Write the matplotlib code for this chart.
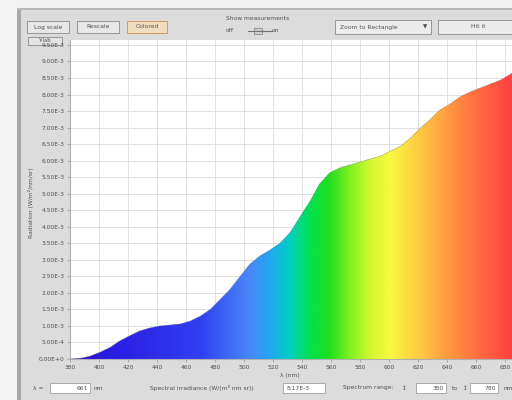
import numpy as np
import matplotlib.pyplot as plt
from matplotlib.colors import LinearSegmentedColormap
from matplotlib.patches import Rectangle

# Spektrum (Wellenlaenge in nm, Bestrahlungsstaerke)
wellenlaenge = [380, 388, 394, 401, 408, 414, 421, 428, 435, 442, 449, 456, 463,
                470, 477, 483, 490, 497, 504, 511, 518, 525, 532, 539, 546, 552,
                559, 566, 573, 580, 587, 594, 601, 608, 615, 621, 628, 635, 642,
                649, 656, 663, 670, 677, 685]
strahlung = [0.0, 0.00003, 0.00009, 0.00021, 0.00036, 0.00054, 0.0007, 0.00085,
             0.00094, 0.001, 0.00103, 0.00106, 0.00115, 0.0013, 0.00151, 0.00178,
             0.00209, 0.00248, 0.00287, 0.00312, 0.0033, 0.00351, 0.00384,
             0.00433, 0.00481, 0.00529, 0.00563, 0.00578, 0.00587, 0.00596,
             0.00605, 0.00614, 0.00629, 0.00644, 0.00669, 0.00696, 0.00723,
             0.00753, 0.00771, 0.00793, 0.00808, 0.0082, 0.00832, 0.00844, 0.00865]

# Farbverlauf entlang der Wellenlaenge
farb_wl = [380, 401, 470, 504, 518, 532, 545, 559, 573, 587, 601, 622, 642, 663, 685]
farben = ['#3a10d0', '#2a18e0', '#3040f0', '#4a88fa', '#20a8f0', '#00d0c0',
          '#00e050', '#20e020', '#80f020', '#d0f830', '#f8f840', '#ffc840',
          '#ff9840', '#ff6a40', '#ff4040']

y_ticks = np.arange(0, 9.51e-3, 0.5e-3)
x_ticks = np.arange(380, 681, 20)

lambda_wert = 661
bereich_von, bereich_bis = 380, 780


def sci(v):
    """Zahl im Format 1.23E-3 (ohne fuehrende Null im Exponenten)."""
    if v == 0:
        return '0.00E+0'
    e = int(np.floor(np.log10(abs(v))))
    return '%.2fE%d' % (v / 10 ** e, e)


W, H = 512, 400
fig = plt.figure(figsize=(W / 100, H / 100), dpi=100, facecolor='#dcdcdc')

# Fensterrahmen und Bedienelemente
bg = fig.add_axes([0, 0, 1, 1], zorder=0)
bg.set_xlim(0, W)
bg.set_ylim(H, 0)
bg.axis('off')

def kasten(x, y, w, h, fc='#e8e8e8', ec='#8a8a8a', lw=0.6):
    bg.add_patch(Rectangle((x, y), w, h, facecolor=fc, edgecolor=ec, lw=lw))

def text(x, y, s, size=4.3, ha='left', **kw):
    bg.text(x, y, s, fontsize=size, ha=ha, va='center', color='#505050', **kw)

bg.add_patch(Rectangle((0, 0), 17, H, facecolor='#f4f4f4', edgecolor='none'))
bg.add_patch(Rectangle((17, 0), 4, H, facecolor='#a8a8a8', edgecolor='none'))
bg.add_patch(Rectangle((17, 0), W, 8, facecolor='#f2f2f2', edgecolor='none'))
bg.add_patch(Rectangle((17, 8), W, 2, facecolor='#b8b8b8', edgecolor='none'))

kasten(27, 21, 42, 12)
text(48, 27, 'Log scale', ha='center')
kasten(77, 21, 42, 12)
text(98, 27, 'Rescale', ha='center')
kasten(127, 21, 40, 12, fc='#f2dcc0', ec='#d09050')
text(147, 27, 'Colored', ha='center')
text(258, 19, 'Show measurements', ha='center')
text(226, 30, 'off')
bg.plot([248, 272], [31, 31], color='#707070', lw=0.8)
kasten(254, 28, 8, 6, fc='#d0d0d0')
text(272, 30, 'on')
kasten(335, 20, 96, 14, fc='#ececec')
text(340, 27, 'Zoom to Rectangle')
text(425, 27, '\u25bc', size=4, ha='center')
kasten(438, 20, 80, 14, fc='#ececec')
text(478, 27, 'Hit it', ha='center')
kasten(28, 37, 34, 8, fc='#e4e4e4')
text(45, 41, 'Y-lab', size=3.8, ha='center')

text(33, 388, '\u03bb =')
kasten(50, 383, 40, 10, fc='white', ec='#a0a0a0')
text(88, 388, str(lambda_wert), ha='right')
text(94, 388, 'nm')
text(150, 388, 'Spectral irradiance (W/(m\u00b2 nm sr))')
kasten(283, 383, 42, 10, fc='white', ec='#a0a0a0')
wert = np.interp(lambda_wert, wellenlaenge, strahlung)
text(287, 388, sci(wert))
text(343, 388, 'Spectrum range:')
text(404, 388, '\u2195', size=4, ha='center')
kasten(416, 383, 30, 10, fc='white', ec='#a0a0a0')
text(444, 388, str(bereich_von), ha='right')
text(452, 388, 'to')
text(465, 388, '\u2195', size=4, ha='center')
kasten(470, 383, 28, 10, fc='white', ec='#a0a0a0')
text(496, 388, str(bereich_bis), ha='right')
text(503, 388, 'nm')

# Diagramm
ax = fig.add_axes([70 / W, 1 - 359 / H, (W - 70) / W, (359 - 40) / H], zorder=2)
ax.set_facecolor('white')
x0, x1 = 380, 684.8
y0, y1 = 0, 9.65e-3

cmap = LinearSegmentedColormap.from_list(
    'spektrum', [((w - farb_wl[0]) / (farb_wl[-1] - farb_wl[0]), c)
                 for w, c in zip(farb_wl, farben)])
flaeche = ax.fill_between(wellenlaenge, strahlung, 0, facecolor='none',
                          edgecolor='none')
verlauf = np.linspace(0, 1, 512).reshape(1, -1)
img = ax.imshow(verlauf, cmap=cmap, aspect='auto', zorder=2,
                extent=[farb_wl[0], farb_wl[-1], 0, max(strahlung)],
                interpolation='bilinear')
img.set_clip_path(flaeche.get_paths()[0], transform=ax.transData)
ax.plot(wellenlaenge, strahlung, color='#707070', lw=0.4, alpha=0.6, zorder=3)
ax.set_xlim(x0, x1)
ax.set_ylim(y0, y1)

ax.set_yticks(y_ticks)
ax.set_yticklabels([sci(v) for v in y_ticks])
ax.set_xticks(x_ticks)
ax.set_xticklabels([str(v) for v in x_ticks])
ax.tick_params(labelsize=4.3, labelcolor='#505050', color='#909090',
               length=2.5, width=0.5, pad=1.5)
ax.grid(True, color='#dadada', lw=0.6)
ax.set_axisbelow(True)
for s in ax.spines.values():
    s.set_visible(False)
ax.spines['left'].set_visible(True)
ax.spines['left'].set_color('#b0b0b0')
ax.spines['bottom'].set_visible(True)
ax.spines['bottom'].set_color('#b0b0b0')

fig.text(290 / W, 1 - 376 / H, '\u03bb (nm)', fontsize=4.3, color='#505050',
         ha='center', va='center')
fig.text(31 / W, 1 - 203 / H, 'Radiation (W/m\u00b2/nm/sr)', fontsize=4.3,
         color='#505050', rotation=90, ha='center', va='center')

fig.savefig('out.png', dpi=100, facecolor=fig.get_facecolor())
